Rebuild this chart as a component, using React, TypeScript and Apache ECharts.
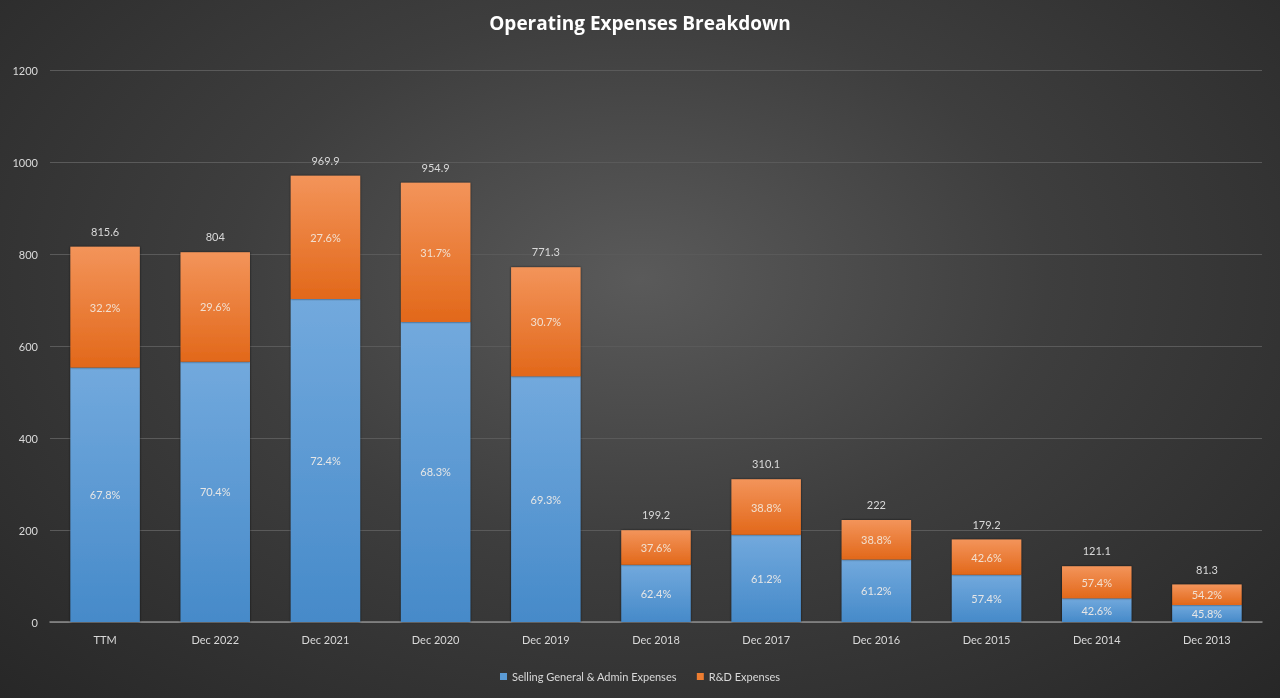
import React, { useEffect, useRef } from "react";
import * as echarts from "echarts";

const categories = ["TTM", "Dec 2022", "Dec 2021", "Dec 2020", "Dec 2019", "Dec 2018", "Dec 2017", "Dec 2016", "Dec 2015", "Dec 2014", "Dec 2013"];
const sgaValues = [553.0, 566.0, 702.2, 652.2, 534.5, 124.3, 189.8, 135.9, 102.9, 51.6, 37.2];
const rdValues = [262.6, 238.0, 267.7, 302.7, 236.8, 74.9, 120.3, 86.1, 76.3, 69.5, 44.1];
const totals = ["815.6", "804", "969.9", "954.9", "771.3", "199.2", "310.1", "222", "179.2", "121.1", "81.3"];
const sgaPct = ["67.8%", "70.4%", "72.4%", "68.3%", "69.3%", "62.4%", "61.2%", "61.2%", "57.4%", "42.6%", "45.8%"];
const rdPct = ["32.2%", "29.6%", "27.6%", "31.7%", "30.7%", "37.6%", "38.8%", "38.8%", "42.6%", "57.4%", "54.2%"];
const yTicks = [0, 200, 400, 600, 800, 1000, 1200];

const FONT = "Lato, 'Open Sans', sans-serif";

export default function App() {
  const ref = useRef<HTMLDivElement>(null);
  useEffect(() => {
    if (!ref.current) return;
    const chart = echarts.init(ref.current, undefined, { renderer: "svg" });
    const blue = new echarts.graphic.LinearGradient(0, 0, 0, 1, [
      { offset: 0, color: "#72a9dd" },
      { offset: 1, color: "#468ac9" },
    ]);
    const orange = new echarts.graphic.LinearGradient(0, 0, 0, 1, [
      { offset: 0, color: "#f3945a" },
      { offset: 1, color: "#e2681a" },
    ]);
    const barStyle = (c: any) => ({
      color: c,
      shadowColor: "rgba(0,0,0,0.7)",
      shadowBlur: 2,
      shadowOffsetX: 0,
      shadowOffsetY: 0,
    });
    chart.setOption({
      animation: false,
      backgroundColor: "transparent",
      textStyle: { fontFamily: FONT },
      title: {
        text: "Operating Expenses Breakdown",
        left: "center",
        top: 8,
        textStyle: { color: "#ffffff", fontSize: 19, fontWeight: "bold", fontFamily: "'Open Sans', sans-serif" },
      },
      legend: {
        bottom: 11,
        left: "center",
        itemWidth: 7,
        itemHeight: 7,
        itemGap: 20,
        icon: "rect",
        textStyle: { color: "#d9d9d9", fontSize: 11, fontFamily: FONT },
        data: [
          { name: "Selling General & Admin Expenses", itemStyle: { color: "#5b9bd5" } },
          { name: "R&D Expenses", itemStyle: { color: "#ed7d31" } },
        ],
      },
      grid: { left: 50, right: 18, top: 70, bottom: 76, containLabel: false },
      xAxis: {
        type: "category",
        data: categories,
        axisLine: { lineStyle: { color: "#8c8c8c", width: 1.5 } },
        axisTick: { show: false },
        axisLabel: { color: "#d9d9d9", fontSize: 11, margin: 12, fontFamily: FONT },
      },
      yAxis: {
        type: "value",
        min: yTicks[0],
        max: yTicks[yTicks.length - 1],
        interval: 200,
        axisLine: { show: false },
        axisTick: { show: false },
        axisLabel: { color: "#d9d9d9", fontSize: 11, margin: 12, fontFamily: FONT, formatter: (v: number) => String(v) },
        splitLine: { lineStyle: { color: "#5a5a5a", width: 1 } },
      },
      series: [
        {
          name: "Selling General & Admin Expenses",
          type: "bar",
          stack: "total",
          barWidth: "63%",
          data: sgaValues,
          itemStyle: barStyle(blue),
          label: {
            show: true,
            position: "inside",
            color: "#e6e6e6",
            fontSize: 11,
            fontFamily: FONT,
            formatter: (p: any) => sgaPct[p.dataIndex],
          },
        },
        {
          name: "R&D Expenses",
          type: "bar",
          stack: "total",
          barWidth: "63%",
          data: rdValues,
          itemStyle: barStyle(orange),
          label: {
            show: true,
            position: "inside",
            color: "#f2e0d0",
            fontSize: 11,
            fontFamily: FONT,
            formatter: (p: any) => rdPct[p.dataIndex],
          },
        },
        {
          name: "totals",
          type: "bar",
          stack: "total",
          barWidth: "63%",
          data: categories.map(() => 0),
          itemStyle: { color: "transparent" },
          label: {
            show: true,
            position: "top",
            distance: 10,
            color: "#d9d9d9",
            fontSize: 11,
            fontFamily: FONT,
            formatter: (p: any) => totals[p.dataIndex],
          },
        },
      ],
    });
    return () => chart.dispose();
  }, []);
  return (
    <div
      ref={ref}
      style={{
        position: "fixed",
        left: 0,
        top: 0,
        width: "1280px",
        height: "698px",
        background: "radial-gradient(ellipse at 50% 40%, #5a5a5a 0%, #3e3e3e 45%, #272727 100%)",
      }}
    />
  );
}
